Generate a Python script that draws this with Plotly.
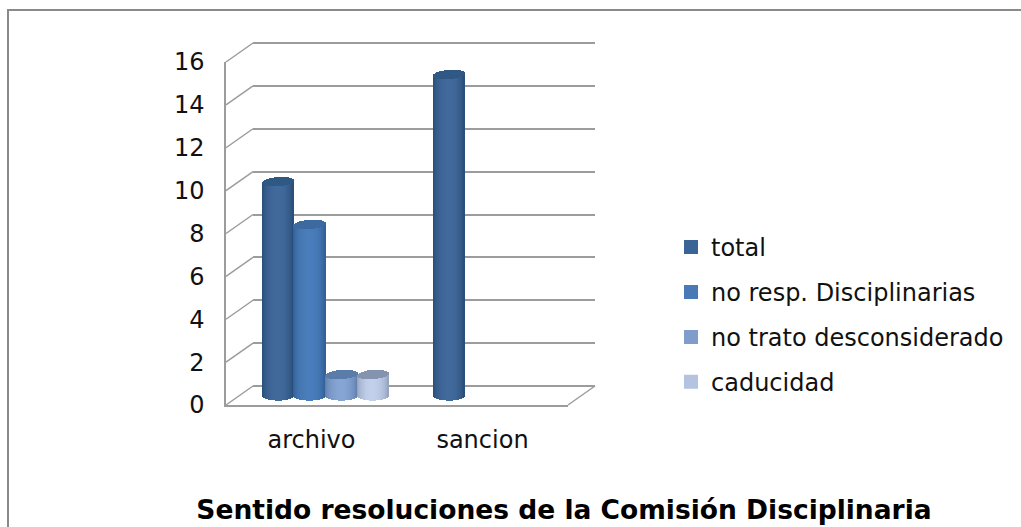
import math
import plotly.graph_objects as go

categories = ["archivo", "sancion"]
series_names = ["total", "no resp. Disciplinarias", "no trato desconsiderado", "caducidad"]
total = [10, 15]
no_resp = [8, 0]
no_trato = [1, 0]
caducidad = [1, 0]
y_ticks = [0, 2, 4, 6, 8, 10, 12, 14, 16]
title_text = "Sentido resoluciones de la Comisión Disciplinaria"

W, H = 1021, 527
FONT = "DejaVu Sans"
GRID = "#9c9c9c"
FRAME = "#8a8a8a"

# colours: legend swatch, cylinder edge, cylinder centre, top cap
swatch = ["#3a6396", "#4a7ab5", "#7f9ccb", "#b4c3df"]
edge = ["#264a74", "#2f5c92", "#5c7aa6", "#8f9db8"]
centre = ["#41699b", "#4a7dbb", "#86a4d4", "#c2d0ec"]
cap = ["#2f5885", "#3c6a9f", "#5a7ca8", "#8494b0"]


def hx(c):
    return [int(c[i:i + 2], 16) for i in (1, 3, 5)]


def mix(a, b, t):
    pa, pb = hx(a), hx(b)
    return "rgb(%d,%d,%d)" % tuple(round(pa[i] + (pb[i] - pa[i]) * t) for i in range(3))


def px(x):
    return x / W


def py(y):
    return 1 - y / H


# planes in pixels: left, right, y of value 0, y of value 16
FRONT = (226, 568, 405, 62)
BACK = (253, 595, 386, 43)
MID = (239.5, 581.5, 396, 53)
PX_PER_CAT = (FRONT[1] - FRONT[0]) / len(categories)
PX_PER_VAL = (FRONT[2] - FRONT[3]) / 16
BAR_PX = 31.6
CAP_PX = 4.6
STRIPS = 32
BACK_PAD = 0.15   # value padding so the 0 and 16 gridlines are kept
MID_PAD = 1.0     # room below 0 for the rounded foot of the cylinders


def plane_y(plane, v):
    return plane[2] + (plane[3] - plane[2]) * v / 16


fig = go.Figure()

all_series = [total, no_resp, no_trato, caducidad]
bar_w = BAR_PX / PX_PER_CAT
strip = bar_w / STRIPS
cap_h = CAP_PX / PX_PER_VAL
for s, vals in enumerate(all_series):
    xs, bases, heights, widths, offsets, colors = [], [], [], [], [], []
    for layer in ("body", "cap"):
        for i, v in enumerate(vals):
            if not v:
                continue
            for k in range(STRIPS):
                u = (k + 0.5) / STRIPS * 2 - 1
                sag = math.sqrt(max(0, 1 - u * u))
                xs.append(i)
                offsets.append((s - 2) * bar_w + k * strip)
                widths.append(strip * (1.45 if k < STRIPS - 1 else 1))
                if layer == "body":
                    bases.append(-cap_h * sag)
                    heights.append(v + cap_h * sag)
                    colors.append(mix(edge[s], centre[s], sag ** 1.3))
                else:
                    # slightly tilted top ellipse
                    tilt = 0.25 * cap_h * u
                    bases.append(v - cap_h * sag + tilt)
                    heights.append(2 * cap_h * sag)
                    colors.append(cap[s])
    fig.add_trace(go.Bar(x=xs, y=heights, base=bases, width=widths, offset=offsets,
                         marker=dict(color=colors, line=dict(width=0)), cliponaxis=False,
                         xaxis="x3", yaxis="y3", showlegend=False, hoverinfo="skip"))

# legend entries
for s, name in enumerate(series_names):
    fig.add_trace(go.Bar(x=[categories[0]], y=[None], name=name, legendgroup=name,
                         marker=dict(color=swatch[s], line=dict(width=2, color=swatch[s])),
                         xaxis="x", yaxis="y", hoverinfo="skip"))

# anchors for the back wall
fig.add_trace(go.Scatter(x=[0], y=[None], mode="lines", xaxis="x2", yaxis="y2",
                         showlegend=False, hoverinfo="skip"))

shapes = []
for v in y_ticks:
    shapes.append(dict(type="line", xref="paper", yref="paper",
                       x0=px(FRONT[0]), y0=py(plane_y(FRONT, v)),
                       x1=px(BACK[0]), y1=py(plane_y(BACK, v)),
                       line=dict(color=GRID, width=1.5), layer="below"))
shapes.append(dict(type="line", xref="paper", yref="paper",
                   x0=px(FRONT[1]), y0=py(FRONT[2]), x1=px(BACK[1]), y1=py(BACK[2]),
                   line=dict(color=GRID, width=1.5), layer="below"))
# chart frame
shapes.append(dict(type="path", xref="paper", yref="paper",
                   path="M %f,%f L %f,%f L %f,%f" % (
                       px(8), 0, px(8), py(10), 1, py(10)),
                   line=dict(color=FRAME, width=2), layer="below"))

fig.update_layout(
    width=W, height=H, margin=dict(l=0, r=0, t=0, b=0, autoexpand=False),
    paper_bgcolor="white", plot_bgcolor="rgba(0,0,0,0)",
    barmode="overlay", bargap=0,
    font=dict(family=FONT, color="#111111", size=24),
    shapes=shapes,
    title=dict(text="<b>%s</b>" % title_text, x=px(564), y=py(510),
               xref="paper", yref="paper", xanchor="center", yanchor="middle",
               font=dict(family=FONT, size=26.5, color="#000000")),
    legend=dict(x=px(671), y=py(225), xanchor="left", yanchor="top",
                font=dict(family=FONT, size=24), tracegroupgap=10.7,
                bgcolor="rgba(0,0,0,0)", traceorder="grouped"),
    xaxis=dict(domain=[px(FRONT[0]), px(FRONT[1])], anchor="y", type="category",
               categoryorder="array", categoryarray=categories,
               range=[-0.5, 1.5], showline=True, linecolor=GRID, linewidth=1.5,
               showgrid=False, zeroline=False, ticks="", ticklabelstandoff=12),
    yaxis=dict(domain=[py(FRONT[2]), py(FRONT[3])], anchor="x",
               range=[0, 16], tickvals=y_ticks, showline=True, linecolor=GRID, linewidth=1.5,
               showgrid=False, zeroline=False, ticks="", ticklabelstandoff=15,
               tickfont=dict(family=FONT, size=24)),
    xaxis2=dict(domain=[px(BACK[0]), px(BACK[1])], anchor="y2",
                range=[-0.5, 1.5], visible=False),
    yaxis2=dict(domain=[py(plane_y(BACK, -BACK_PAD)), py(plane_y(BACK, 16 + BACK_PAD))],
                anchor="x2", range=[-BACK_PAD, 16 + BACK_PAD], tickvals=y_ticks,
                showgrid=True, gridcolor=GRID, gridwidth=1.5,
                showticklabels=False, ticks="", zeroline=False, showline=False),
    xaxis3=dict(domain=[px(MID[0]), px(MID[1])], anchor="y3",
                range=[-0.5, 1.5], visible=False),
    yaxis3=dict(domain=[py(plane_y(MID, -MID_PAD)), py(MID[3])], anchor="x3",
                range=[-MID_PAD, 16], visible=False),
)

fig.write_html("out.html", config={"displayModeBar": False},
               post_script="document.body.style.margin='0';document.body.style.overflow='hidden';")
